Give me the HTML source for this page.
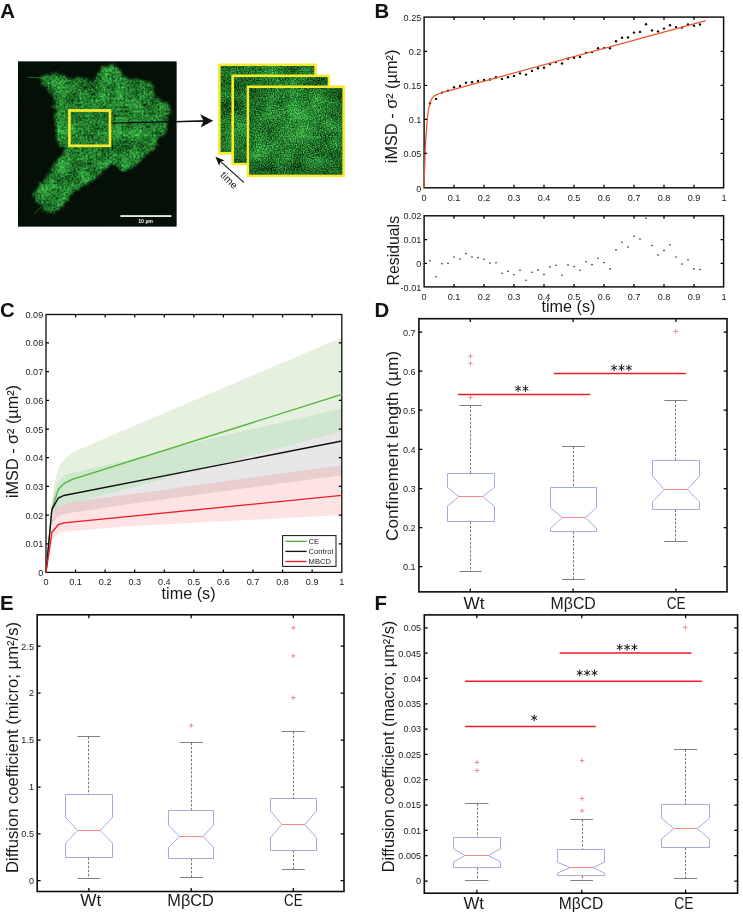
<!DOCTYPE html>
<html><head><meta charset="utf-8"><title>Figure</title>
<style>html,body{margin:0;padding:0;background:#fff;}svg{display:block;opacity:0.999;will-change:transform;}text{font-family:"Liberation Sans", sans-serif;}</style>
</head><body>
<svg width="743" height="913" viewBox="0 0 743 913" font-family='"Liberation Sans", sans-serif'>
<rect width="743" height="913" fill="#fff"/>
<defs>
<filter id="cellTex" x="-5%" y="-5%" width="110%" height="110%" color-interpolation-filters="sRGB">
  <feTurbulence type="fractalNoise" baseFrequency="0.33" numOctaves="2" seed="7" result="warp"/>
  <feDisplacementMap in="SourceGraphic" in2="warp" scale="5" xChannelSelector="R" yChannelSelector="G" result="shape"/>
  <feGaussianBlur in="shape" stdDeviation="1.0" result="shapeB"/>
  <feTurbulence type="fractalNoise" baseFrequency="0.07 0.065" numOctaves="3" seed="3" result="lo0"/>
  <feColorMatrix in="lo0" type="matrix" values="0 1 0 0 0  0 1 0 0 0  0 1 0 0 0  0 0 0 0 1" result="lo"/>
  <feTurbulence type="fractalNoise" baseFrequency="0.5 0.46" numOctaves="2" seed="11" result="hi0"/>
  <feColorMatrix in="hi0" type="matrix" values="0 1 0 0 0  0 1 0 0 0  0 1 0 0 0  0 0 0 0 1" result="hi1"/>
  <feGaussianBlur in="hi1" stdDeviation="0.6" result="hi"/>
  <feComposite in="lo" in2="hi" operator="arithmetic" k1="0" k2="0.55" k3="0.8" k4="-0.2" result="mix"/>
  <feColorMatrix in="mix" type="matrix" values="0 0.42 0 0 -0.06  0 1.0 0 0 0.02  0 0.42 0 0 -0.02  0 0 0 0 1" result="green"/>
  <feComposite in="green" in2="shapeB" operator="in"/>
</filter>
<filter id="bgTex" x="0" y="0" width="100%" height="100%" color-interpolation-filters="sRGB">
  <feTurbulence type="fractalNoise" baseFrequency="0.7" numOctaves="1" seed="2" result="g"/>
  <feColorMatrix in="g" type="matrix" values="0 0 0 0 0.02  0 0.12 0 0 0.0  0 0 0 0 0.025  0 0 0 0 1"/>
  <feComposite in2="SourceGraphic" operator="in"/>
</filter>
<filter id="roiTex" x="0" y="0" width="100%" height="100%" color-interpolation-filters="sRGB">
  <feTurbulence type="fractalNoise" baseFrequency="0.045 0.05" numOctaves="3" seed="9" result="lo0"/>
  <feColorMatrix in="lo0" type="matrix" values="0 1 0 0 0  0 1 0 0 0  0 1 0 0 0  0 0 0 0 1" result="lo"/>
  <feTurbulence type="fractalNoise" baseFrequency="0.83 0.77" numOctaves="2" seed="5" result="hi0"/>
  <feColorMatrix in="hi0" type="matrix" values="0 1 0 0 0  0 1 0 0 0  0 1 0 0 0  0 0 0 0 1" result="hi1"/>
  <feGaussianBlur in="hi1" stdDeviation="0.33" result="hi"/>
  <feComposite in="lo" in2="hi" operator="arithmetic" k1="0" k2="0.55" k3="1.15" k4="-0.36" result="mix"/>
  <feColorMatrix in="mix" type="matrix" values="0 0.42 0 0 -0.06  0 1.0 0 0 0.02  0 0.42 0 0 -0.02  0 0 0 0 1"/>
  <feComposite in2="SourceGraphic" operator="in"/>
</filter>
<radialGradient id="vig" cx="50%" cy="50%" r="72%">
  <stop offset="0" stop-color="#000" stop-opacity="0"/>
  <stop offset="0.6" stop-color="#000" stop-opacity="0.05"/>
  <stop offset="1" stop-color="#000" stop-opacity="0.32"/>
</radialGradient>
<radialGradient id="glow" cx="50%" cy="50%" r="50%">
  <stop offset="0" stop-color="#6fe06a" stop-opacity="0.12"/>
  <stop offset="1" stop-color="#6fe06a" stop-opacity="0"/>
</radialGradient>
</defs>
<text x="0.3" y="17.6" font-size="20.4" font-weight="bold" fill="#111">A</text>
<text x="374.4" y="17.6" font-size="20.4" font-weight="bold" fill="#111">B</text>
<text x="-0.1" y="317.3" font-size="20.4" font-weight="bold" fill="#111">C</text>
<text x="374.4" y="316.8" font-size="20.4" font-weight="bold" fill="#111">D</text>
<text x="-0.1" y="609.7" font-size="20.4" font-weight="bold" fill="#111">E</text>
<text x="374.4" y="609.7" font-size="20.4" font-weight="bold" fill="#111">F</text>
<rect x="18.0" y="61.6" width="158.4" height="164.8" fill="#050d07"/>
<rect x="18.0" y="61.6" width="158.4" height="164.8" fill="#000" filter="url(#bgTex)"/>
<clipPath id="imgClip"><rect x="18.0" y="61.6" width="158.4" height="164.8"/></clipPath>
<g clip-path="url(#imgClip)"><path d="M43.39 76.8L44.82 74.64L46.81 74.25L48.86 74.02L51.08 74.31L52.89 72.86L54.8 72.58L56.75 72.73L58.77 73.64L60.77 73.86L62.78 74.07L63.71 76.74L66.11 76.06L67.59 77.48L69.08 79.22L71.93 78.34L73.24 80.42L75.24 79.03L77.13 77.37L79.8 77.48L81.99 77.79L84.12 78.51L86.36 78.61L88.11 79.68L90.19 79.96L92.01 80.87L93.41 79.62L94.43 77.93L96.34 77.25L97.66 75.9L96.46 72.63L100.3 73.33L100.61 71.25L102.34 70.3L100.93 66.86L104.44 67.31L106.04 66L108.32 67.42L109.5 64.49L111.68 65.49L113.49 65.04L115.01 66.43L116.94 67.22L118.54 68.49L120.27 69.57L120.62 71.47L121.98 72.79L122.26 74.73L123.93 75.88L124.79 77.48L126.69 76.98L128.29 78.91L130.17 78.58L131.93 79.15L133.84 78.61L135.84 77.28L137.4 79.51L139.14 80.28L141.02 79.94L142.88 79.74L144.34 81.37L146.34 81.52L148.14 82.22L151.04 79.98L151.93 83.13L152.37 84.95L153.48 86.59L154.17 88.34L152.91 90.57L154.19 92.18L154.76 94.88L153.32 96.91L151.93 98.96L153.78 98.86L155.64 98.67L157.53 98.26L159.05 100.76L160.97 100.09L161.89 102.01L163.53 102.96L167.02 101.45L167.37 104.12L169.06 105.01L170.02 106.87L169.35 108.97L170 110.8L171.15 112.53L170.03 114.47L167.89 115.56L166.75 117.48L165.49 119.31L168.04 120.97L167.48 123.67L167.76 126.09L166.2 127.58L166.82 130.15L164.08 131.04L167.47 134.99L163.23 135.14L161.39 136.05L159.96 137.58L159.2 140.11L156.45 139.66L155.76 141.57L158.9 145.01L153.66 145.1L154.51 147.63L153.66 149.47L151.93 150.97L149.95 151.34L148.6 152.75L147.77 155.02L144.91 153.91L144.04 156.13L142.66 157.49L140.62 157.75L140.48 160.1L139.17 161.68L137.72 163.17L136.1 164.53L135.19 166.67L133.57 167.64L131.89 168.51L129.92 168.89L127.65 168.76L126.35 170.24L124.79 171.32L122.5 171.09L120.66 170.17L119.45 168.3L118.01 166.79L115.52 166.85L114.25 165.09L112.23 164.44L111.23 162.27L110.62 164.38L109.56 166.03L107.49 166.68L106.12 168.02L104.44 169.06L102.69 170.05L102.76 172.44L101.5 173.81L99.92 174.93L98.22 176.06L97.26 178.29L94.69 178.11L93.02 179.27L92.33 181.91L89.75 181.72L88.62 183.59L87.33 185.18L84.94 184.75L83.38 185.83L82.16 187.53L79.8 187.14L79.36 189.61L77.21 190.11L74.83 190.34L73.59 191.89L73.31 194.54L70.98 194.83L69.53 195.99L68.03 197.1L67.83 199.4L67.16 201.26L65.06 201.83L64.55 203.84L64.37 206.15L60.89 205.47L59.9 207.04L59.06 208.83L58.18 210.56L56.26 211.27L55.26 212.89L53.34 213.6L50.97 213.9L49.85 211.17L47.1 212.39L45.66 210.43L43.31 210.12L42.52 207.86L41.55 205.83L39.98 204.55L37.74 204.1L35.63 202.85L35.98 200.15L34.32 198.63L33.92 196.38L32.31 194.83L32.55 192.45L34.93 191.94L35.29 189.67L38.05 189.49L37.69 186.59L40 186.01L38.69 182.39L42.84 183.1L43.24 180.84L44.01 178.86L46.45 178.21L46.54 175.7L48.82 174.93L49.08 172.89L50.42 171.46L49.23 168.59L52.38 168.18L53.08 166.39L54.47 164.99L54.42 162.6L57.28 162.14L56.75 159.45L58.77 158.43L59.44 156.6L61.86 156.13L62.96 154.63L63.85 152.98L63.39 150.28L65.55 149.61L64 148.21L63.04 146.13L59.81 146.7L59.22 144.18L58 142.49L57.49 140.61L55.22 139.18L55.94 136.99L55.92 134.99L55.78 133.02L56.11 130.94L55.8 129.01L54.93 127.22L54.85 124.96L54.87 122.68L54.59 120.46L53.34 118.41L52.68 116.01L53.47 114.13L56.13 112.9L56.06 110.72L56.3 108.4L50.72 107.13L55.16 104.05L54.47 101.9L54.31 99.8L53.13 98.28L52.54 96.42L51.24 94.97L50.64 93.11L48.82 91.95L47.43 90.34L45.6 88.95L46.57 86.18L43.88 85.21L39.94 84.85L43.39 80.87L40.32 78.84Z" fill="#fff" filter="url(#cellTex)"/></g>
<path d="M28.6 77.4L44 77.8" stroke="#2f9a3f" stroke-opacity="0.55" stroke-width="1.3" stroke-linecap="round" fill="none"/>
<path d="M34.5 213.5L41 207" stroke="#2f9a3f" stroke-opacity="0.4" stroke-width="1.1" stroke-linecap="round" fill="none"/>
<rect x="69.4" y="110.5" width="40.5" height="35.3" fill="none" stroke="#f7ea2e" stroke-width="2.7"/>
<rect x="120.4" y="215.2" width="51" height="1.7" fill="#fff"/>
<text x="145.6" y="223.2" font-size="5.2" font-weight="bold" text-anchor="middle" fill="#f4f4f4">10 µm</text>
<path d="M111.4 123.2L204 121" stroke="#03101a" stroke-width="1.3" fill="none"/>
<path d="M176.4 121.7L204 121" stroke="#111" stroke-width="1" fill="none"/>
<path d="M213.2 120.8L200.2 114.2L203.6 120.9L200.6 127.6Z" fill="#111"/>
<rect x="218.1" y="63.5" width="98.7" height="91.1" fill="#f7ea2e"/>
<rect x="220.8" y="66.2" width="93.3" height="85.7" fill="#1f7a2a"/>
<rect x="220.8" y="66.2" width="93.3" height="85.7" fill="#000" filter="url(#roiTex)"/>
<rect x="220.8" y="66.2" width="93.3" height="85.7" fill="url(#glow)"/>
<rect x="220.8" y="66.2" width="93.3" height="85.7" fill="url(#vig)"/>
<rect x="231.4" y="74.5" width="98.7" height="90.8" fill="#f7ea2e"/>
<rect x="234.1" y="77.2" width="93.3" height="85.4" fill="#1f7a2a"/>
<rect x="234.1" y="77.2" width="93.3" height="85.4" fill="#000" filter="url(#roiTex)"/>
<rect x="234.1" y="77.2" width="93.3" height="85.4" fill="url(#glow)"/>
<rect x="234.1" y="77.2" width="93.3" height="85.4" fill="url(#vig)"/>
<rect x="246.7" y="85.5" width="98.2" height="91.6" fill="#f7ea2e"/>
<rect x="249.4" y="88.2" width="92.8" height="86.2" fill="#1f7a2a"/>
<rect x="249.4" y="88.2" width="92.8" height="86.2" fill="#000" filter="url(#roiTex)"/>
<rect x="249.4" y="88.2" width="92.8" height="86.2" fill="url(#glow)"/>
<rect x="249.4" y="88.2" width="92.8" height="86.2" fill="url(#vig)"/>
<path d="M243.8 182.4L219.6 160.6" stroke="#111" stroke-width="1.1" fill="none"/>
<path d="M215.4 156.8L224.8 160.4L220.4 161.4L219.2 165.8Z" fill="#111"/>
<text transform="translate(226.6,182.6) rotate(45)" font-size="10.2" text-anchor="middle" fill="#111">time</text>
<circle cx="430" cy="103.2" r="1.2" fill="#0a0a0a"/>
<circle cx="436" cy="98.9" r="1.2" fill="#0a0a0a"/>
<circle cx="442" cy="92.6" r="1.2" fill="#0a0a0a"/>
<circle cx="448" cy="90.6" r="1.2" fill="#0a0a0a"/>
<circle cx="454" cy="87.3" r="1.2" fill="#0a0a0a"/>
<circle cx="460" cy="86" r="1.2" fill="#0a0a0a"/>
<circle cx="466" cy="82.7" r="1.2" fill="#0a0a0a"/>
<circle cx="472" cy="82.2" r="1.2" fill="#0a0a0a"/>
<circle cx="478" cy="81" r="1.2" fill="#0a0a0a"/>
<circle cx="484" cy="80" r="1.2" fill="#0a0a0a"/>
<circle cx="490" cy="79.5" r="1.2" fill="#0a0a0a"/>
<circle cx="496" cy="77.2" r="1.2" fill="#0a0a0a"/>
<circle cx="502" cy="78.9" r="1.2" fill="#0a0a0a"/>
<circle cx="508" cy="77.2" r="1.2" fill="#0a0a0a"/>
<circle cx="514" cy="75.9" r="1.2" fill="#0a0a0a"/>
<circle cx="520" cy="73.4" r="1.2" fill="#0a0a0a"/>
<circle cx="526" cy="74.6" r="1.2" fill="#0a0a0a"/>
<circle cx="532" cy="70.9" r="1.2" fill="#0a0a0a"/>
<circle cx="538" cy="68.3" r="1.2" fill="#0a0a0a"/>
<circle cx="544" cy="67.8" r="1.2" fill="#0a0a0a"/>
<circle cx="550" cy="64" r="1.2" fill="#0a0a0a"/>
<circle cx="556" cy="62" r="1.2" fill="#0a0a0a"/>
<circle cx="562" cy="63.5" r="1.2" fill="#0a0a0a"/>
<circle cx="568" cy="58.7" r="1.2" fill="#0a0a0a"/>
<circle cx="574" cy="57.7" r="1.2" fill="#0a0a0a"/>
<circle cx="580" cy="56.9" r="1.2" fill="#0a0a0a"/>
<circle cx="586" cy="52.9" r="1.2" fill="#0a0a0a"/>
<circle cx="592" cy="52.1" r="1.2" fill="#0a0a0a"/>
<circle cx="598" cy="48.3" r="1.2" fill="#0a0a0a"/>
<circle cx="604" cy="48.1" r="1.2" fill="#0a0a0a"/>
<circle cx="610" cy="48.3" r="1.2" fill="#0a0a0a"/>
<circle cx="616" cy="41.2" r="1.2" fill="#0a0a0a"/>
<circle cx="622" cy="37.7" r="1.2" fill="#0a0a0a"/>
<circle cx="628" cy="37.4" r="1.2" fill="#0a0a0a"/>
<circle cx="634" cy="32.6" r="1.2" fill="#0a0a0a"/>
<circle cx="640" cy="31.9" r="1.2" fill="#0a0a0a"/>
<circle cx="646" cy="24.3" r="1.2" fill="#0a0a0a"/>
<circle cx="652" cy="30.4" r="1.2" fill="#0a0a0a"/>
<circle cx="658" cy="31.4" r="1.2" fill="#0a0a0a"/>
<circle cx="664" cy="28.6" r="1.2" fill="#0a0a0a"/>
<circle cx="670" cy="25.3" r="1.2" fill="#0a0a0a"/>
<circle cx="676" cy="27.1" r="1.2" fill="#0a0a0a"/>
<circle cx="682" cy="27.6" r="1.2" fill="#0a0a0a"/>
<circle cx="688" cy="24.5" r="1.2" fill="#0a0a0a"/>
<circle cx="694" cy="25.8" r="1.2" fill="#0a0a0a"/>
<circle cx="700" cy="24.5" r="1.2" fill="#0a0a0a"/>
<rect x="424.1" y="17.1" width="299.5" height="170.7" fill="none" stroke="#0b0c0c" stroke-width="1.45"/>
<path d="M424 188L424.6 168L425.1 151.8L425.7 140L426.4 131.6L427.2 120L428.2 111.3L429.2 106L430.2 102.5L431.4 99.6L432.7 97.4L434.4 95.9L436.3 94.9L439.5 93.5L442.9 92.4L705.8 20.7" stroke="#e8542a" stroke-width="1.25" fill="none" stroke-linejoin="round"/>
<path d="M454 187.8v-3M454 17.1v3M484 187.8v-3M484 17.1v3M514 187.8v-3M514 17.1v3M544 187.8v-3M544 17.1v3M574 187.8v-3M574 17.1v3M604 187.8v-3M604 17.1v3M634 187.8v-3M634 17.1v3M664 187.8v-3M664 17.1v3M694 187.8v-3M694 17.1v3" stroke="#000" stroke-width="1.25" fill="none"/>
<path d="M424.1 51.4h3M723.6 51.4h-3M424.1 85.4h3M723.6 85.4h-3M424.1 119.4h3M723.6 119.4h-3M424.1 153.4h3M723.6 153.4h-3" stroke="#000" stroke-width="1.25" fill="none"/>
<text x="421.3" y="20.5" font-size="9.1" text-anchor="end" font-weight="normal" fill="#1a1a1a" >0.25</text>
<text x="421.3" y="54.9" font-size="9.1" text-anchor="end" font-weight="normal" fill="#1a1a1a" >0.2</text>
<text x="421.3" y="88.9" font-size="9.1" text-anchor="end" font-weight="normal" fill="#1a1a1a" >0.15</text>
<text x="421.3" y="122.9" font-size="9.1" text-anchor="end" font-weight="normal" fill="#1a1a1a" >0.1</text>
<text x="421.3" y="156.9" font-size="9.1" text-anchor="end" font-weight="normal" fill="#1a1a1a" >0.05</text>
<text x="421.3" y="191.5" font-size="9.1" text-anchor="end" font-weight="normal" fill="#1a1a1a" >0</text>
<text x="424" y="201.2" font-size="9.1" text-anchor="middle" font-weight="normal" fill="#1a1a1a" >0</text>
<text x="454" y="201.2" font-size="9.1" text-anchor="middle" font-weight="normal" fill="#1a1a1a" >0.1</text>
<text x="484" y="201.2" font-size="9.1" text-anchor="middle" font-weight="normal" fill="#1a1a1a" >0.2</text>
<text x="514" y="201.2" font-size="9.1" text-anchor="middle" font-weight="normal" fill="#1a1a1a" >0.3</text>
<text x="544" y="201.2" font-size="9.1" text-anchor="middle" font-weight="normal" fill="#1a1a1a" >0.4</text>
<text x="574" y="201.2" font-size="9.1" text-anchor="middle" font-weight="normal" fill="#1a1a1a" >0.5</text>
<text x="604" y="201.2" font-size="9.1" text-anchor="middle" font-weight="normal" fill="#1a1a1a" >0.6</text>
<text x="634" y="201.2" font-size="9.1" text-anchor="middle" font-weight="normal" fill="#1a1a1a" >0.7</text>
<text x="664" y="201.2" font-size="9.1" text-anchor="middle" font-weight="normal" fill="#1a1a1a" >0.8</text>
<text x="694" y="201.2" font-size="9.1" text-anchor="middle" font-weight="normal" fill="#1a1a1a" >0.9</text>
<text x="724" y="201.2" font-size="9.1" text-anchor="middle" font-weight="normal" fill="#1a1a1a" >1</text>
<text transform="translate(396.6,106.4) rotate(-90)" font-size="16.6" text-anchor="middle" fill="#1a1a1a" textLength="113.5" lengthAdjust="spacingAndGlyphs">iMSD - σ² (µm²)</text>
<circle cx="430" cy="260.8" r="0.78" fill="#111"/>
<circle cx="436" cy="276.7" r="0.78" fill="#111"/>
<circle cx="442" cy="263.8" r="0.78" fill="#111"/>
<circle cx="448" cy="263.3" r="0.78" fill="#111"/>
<circle cx="454" cy="257" r="0.78" fill="#111"/>
<circle cx="460" cy="259" r="0.78" fill="#111"/>
<circle cx="466" cy="253.5" r="0.78" fill="#111"/>
<circle cx="472" cy="257" r="0.78" fill="#111"/>
<circle cx="478" cy="257.5" r="0.78" fill="#111"/>
<circle cx="484" cy="259.3" r="0.78" fill="#111"/>
<circle cx="490" cy="263.1" r="0.78" fill="#111"/>
<circle cx="496" cy="262.8" r="0.78" fill="#111"/>
<circle cx="502" cy="273.2" r="0.78" fill="#111"/>
<circle cx="508" cy="271.4" r="0.78" fill="#111"/>
<circle cx="514" cy="274.7" r="0.78" fill="#111"/>
<circle cx="520" cy="270.2" r="0.78" fill="#111"/>
<circle cx="526" cy="280.3" r="0.78" fill="#111"/>
<circle cx="532" cy="272.2" r="0.78" fill="#111"/>
<circle cx="538" cy="269.9" r="0.78" fill="#111"/>
<circle cx="544" cy="274.5" r="0.78" fill="#111"/>
<circle cx="550" cy="266.9" r="0.78" fill="#111"/>
<circle cx="556" cy="265.3" r="0.78" fill="#111"/>
<circle cx="562" cy="275.2" r="0.78" fill="#111"/>
<circle cx="568" cy="265.1" r="0.78" fill="#111"/>
<circle cx="574" cy="266.6" r="0.78" fill="#111"/>
<circle cx="580" cy="270.2" r="0.78" fill="#111"/>
<circle cx="586" cy="261.8" r="0.78" fill="#111"/>
<circle cx="592" cy="264.6" r="0.78" fill="#111"/>
<circle cx="598" cy="258.3" r="0.78" fill="#111"/>
<circle cx="604" cy="262.6" r="0.78" fill="#111"/>
<circle cx="610" cy="268.9" r="0.78" fill="#111"/>
<circle cx="616" cy="249.9" r="0.78" fill="#111"/>
<circle cx="622" cy="242.3" r="0.78" fill="#111"/>
<circle cx="628" cy="247.1" r="0.78" fill="#111"/>
<circle cx="634" cy="236.2" r="0.78" fill="#111"/>
<circle cx="640" cy="239" r="0.78" fill="#111"/>
<circle cx="646" cy="218.3" r="0.78" fill="#111"/>
<circle cx="652" cy="245.6" r="0.78" fill="#111"/>
<circle cx="658" cy="255" r="0.78" fill="#111"/>
<circle cx="664" cy="250.4" r="0.78" fill="#111"/>
<circle cx="670" cy="244.8" r="0.78" fill="#111"/>
<circle cx="676" cy="257" r="0.78" fill="#111"/>
<circle cx="682" cy="264.1" r="0.78" fill="#111"/>
<circle cx="688" cy="259.8" r="0.78" fill="#111"/>
<circle cx="694" cy="268.9" r="0.78" fill="#111"/>
<circle cx="700" cy="269.6" r="0.78" fill="#111"/>
<rect x="424.1" y="215.8" width="299.5" height="71.1" fill="none" stroke="#0b0c0c" stroke-width="1.45"/>
<path d="M454 286.9v-3M454 215.8v3M484 286.9v-3M484 215.8v3M514 286.9v-3M514 215.8v3M544 286.9v-3M544 215.8v3M574 286.9v-3M574 215.8v3M604 286.9v-3M604 215.8v3M634 286.9v-3M634 215.8v3M664 286.9v-3M664 215.8v3M694 286.9v-3M694 215.8v3" stroke="#000" stroke-width="1.25" fill="none"/>
<path d="M424.1 239.5h3M723.6 239.5h-3M424.1 263.3h3M723.6 263.3h-3" stroke="#000" stroke-width="1.25" fill="none"/>
<text x="421.3" y="219.2" font-size="9.1" text-anchor="end" font-weight="normal" fill="#1a1a1a" >0.02</text>
<text x="421.3" y="243" font-size="9.1" text-anchor="end" font-weight="normal" fill="#1a1a1a" >0.01</text>
<text x="421.3" y="266.8" font-size="9.1" text-anchor="end" font-weight="normal" fill="#1a1a1a" >0</text>
<text x="421.3" y="290.5" font-size="9.1" text-anchor="end" font-weight="normal" fill="#1a1a1a" >-0.01</text>
<text x="424" y="299.8" font-size="9.1" text-anchor="middle" font-weight="normal" fill="#1a1a1a" >0</text>
<text x="454" y="299.8" font-size="9.1" text-anchor="middle" font-weight="normal" fill="#1a1a1a" >0.1</text>
<text x="484" y="299.8" font-size="9.1" text-anchor="middle" font-weight="normal" fill="#1a1a1a" >0.2</text>
<text x="514" y="299.8" font-size="9.1" text-anchor="middle" font-weight="normal" fill="#1a1a1a" >0.3</text>
<text x="544" y="299.8" font-size="9.1" text-anchor="middle" font-weight="normal" fill="#1a1a1a" >0.4</text>
<text x="574" y="299.8" font-size="9.1" text-anchor="middle" font-weight="normal" fill="#1a1a1a" >0.5</text>
<text x="604" y="299.8" font-size="9.1" text-anchor="middle" font-weight="normal" fill="#1a1a1a" >0.6</text>
<text x="634" y="299.8" font-size="9.1" text-anchor="middle" font-weight="normal" fill="#1a1a1a" >0.7</text>
<text x="664" y="299.8" font-size="9.1" text-anchor="middle" font-weight="normal" fill="#1a1a1a" >0.8</text>
<text x="694" y="299.8" font-size="9.1" text-anchor="middle" font-weight="normal" fill="#1a1a1a" >0.9</text>
<text x="724" y="299.8" font-size="9.1" text-anchor="middle" font-weight="normal" fill="#1a1a1a" >1</text>
<text transform="translate(399,250.7) rotate(-90)" font-size="16.6" text-anchor="middle" fill="#1a1a1a" textLength="69.5" lengthAdjust="spacingAndGlyphs">Residuals</text>
<text x="568.4" y="312.3" font-size="16.6" text-anchor="middle" font-weight="normal" fill="#1a1a1a" textLength="54" lengthAdjust="spacingAndGlyphs">time (s)</text>
<path d="M46 572.5L51.9 502L54.8 482L58 469.8L61 463.8L64 460L70.1 454.1L82 448.3L118.3 432.4L341.6 337.7L341.6 431.1L126 489L70.1 502.9L64 504.5L58 507.1L51.9 514L46 572.5Z" fill="rgba(112,173,71,0.18)"/>
<path d="M46 572.5L51.9 505L54.8 490L58 483L61 478.6L64 476L70.1 473.4L126 460.7L200 441.5L341.6 408.9L341.6 475.2L126 504.5L70.1 513.1L64 514L58 516.1L51.9 524L46 572.5Z" fill="rgba(0,0,0,0.095)"/>
<path d="M46 572.5L51.9 522L54.8 511L58 507L64 504L70.1 502.3L126 495L341.6 465.3L341.6 515.1L126 526.4L70.1 531.2L64 532L58 533.6L51.9 540L46 572.5Z" fill="rgba(237,28,36,0.12)"/>
<path d="M54.8 490L58 483L61 478.6L64 476L70.1 473.4L126 460.7L200 441.5L341.6 408.9L341.6 431.1L126 489L70.1 502.9L64 504.5L58 507.1Z" fill="#cfe7cf"/>
<rect x="46" y="314.5" width="295.8" height="257.9" fill="none" stroke="#0b0c0c" stroke-width="1.3"/>
<path d="M46 572.5L51.9 509.3L58.3 489.6L63.9 483.6L71.6 479.6L341.8 394.4" stroke="#4fb53a" stroke-width="1.35" fill="none" stroke-linejoin="miter"/>
<path d="M46 572.5L51.9 509.3L58.3 498.1L63.9 495.5L341.8 441" stroke="#111" stroke-width="1.35" fill="none" stroke-linejoin="miter"/>
<path d="M46 572.5L51.9 532.3L58.3 524.7L63.9 522.9L341.8 495.4" stroke="#ee1c25" stroke-width="1.35" fill="none" stroke-linejoin="miter"/>
<path d="M75.57 572.4v-3M75.57 314.5v3M105.14 572.4v-3M105.14 314.5v3M134.71 572.4v-3M134.71 314.5v3M164.28 572.4v-3M164.28 314.5v3M193.85 572.4v-3M193.85 314.5v3M223.42 572.4v-3M223.42 314.5v3M252.99 572.4v-3M252.99 314.5v3M282.56 572.4v-3M282.56 314.5v3M312.13 572.4v-3M312.13 314.5v3" stroke="#000" stroke-width="1.25" fill="none"/>
<path d="M46 543.8h3M341.8 543.8h-3M46 515.1h3M341.8 515.1h-3M46 486.4h3M341.8 486.4h-3M46 457.7h3M341.8 457.7h-3M46 429h3M341.8 429h-3M46 400.3h3M341.8 400.3h-3M46 371.6h3M341.8 371.6h-3M46 342.9h3M341.8 342.9h-3" stroke="#000" stroke-width="1.25" fill="none"/>
<text x="43.2" y="576" font-size="9.1" text-anchor="end" font-weight="normal" fill="#1a1a1a" >0</text>
<text x="43.2" y="547.3" font-size="9.1" text-anchor="end" font-weight="normal" fill="#1a1a1a" >0.01</text>
<text x="43.2" y="518.6" font-size="9.1" text-anchor="end" font-weight="normal" fill="#1a1a1a" >0.02</text>
<text x="43.2" y="489.9" font-size="9.1" text-anchor="end" font-weight="normal" fill="#1a1a1a" >0.03</text>
<text x="43.2" y="461.2" font-size="9.1" text-anchor="end" font-weight="normal" fill="#1a1a1a" >0.04</text>
<text x="43.2" y="432.5" font-size="9.1" text-anchor="end" font-weight="normal" fill="#1a1a1a" >0.05</text>
<text x="43.2" y="403.8" font-size="9.1" text-anchor="end" font-weight="normal" fill="#1a1a1a" >0.06</text>
<text x="43.2" y="375.1" font-size="9.1" text-anchor="end" font-weight="normal" fill="#1a1a1a" >0.07</text>
<text x="43.2" y="346.4" font-size="9.1" text-anchor="end" font-weight="normal" fill="#1a1a1a" >0.08</text>
<text x="43.2" y="317.7" font-size="9.1" text-anchor="end" font-weight="normal" fill="#1a1a1a" >0.09</text>
<text x="46" y="584.8" font-size="9.1" text-anchor="middle" font-weight="normal" fill="#1a1a1a" >0</text>
<text x="75.57" y="584.8" font-size="9.1" text-anchor="middle" font-weight="normal" fill="#1a1a1a" >0.1</text>
<text x="105.14" y="584.8" font-size="9.1" text-anchor="middle" font-weight="normal" fill="#1a1a1a" >0.2</text>
<text x="134.71" y="584.8" font-size="9.1" text-anchor="middle" font-weight="normal" fill="#1a1a1a" >0.3</text>
<text x="164.28" y="584.8" font-size="9.1" text-anchor="middle" font-weight="normal" fill="#1a1a1a" >0.4</text>
<text x="193.85" y="584.8" font-size="9.1" text-anchor="middle" font-weight="normal" fill="#1a1a1a" >0.5</text>
<text x="223.42" y="584.8" font-size="9.1" text-anchor="middle" font-weight="normal" fill="#1a1a1a" >0.6</text>
<text x="252.99" y="584.8" font-size="9.1" text-anchor="middle" font-weight="normal" fill="#1a1a1a" >0.7</text>
<text x="282.56" y="584.8" font-size="9.1" text-anchor="middle" font-weight="normal" fill="#1a1a1a" >0.8</text>
<text x="312.13" y="584.8" font-size="9.1" text-anchor="middle" font-weight="normal" fill="#1a1a1a" >0.9</text>
<text x="341.7" y="584.8" font-size="9.1" text-anchor="middle" font-weight="normal" fill="#1a1a1a" >1</text>
<text transform="translate(17.6,441.5) rotate(-90)" font-size="16.6" text-anchor="middle" fill="#1a1a1a" textLength="113" lengthAdjust="spacingAndGlyphs">iMSD - σ² (µm²)</text>
<text x="188.6" y="599.2" font-size="16.6" text-anchor="middle" font-weight="normal" fill="#1a1a1a" textLength="54" lengthAdjust="spacingAndGlyphs">time (s)</text>
<rect x="282.6" y="535.6" width="53.4" height="30.8" fill="#fff" stroke="#111" stroke-width="1"/>
<path d="M285.4 541.3H306.6" stroke="#4fb53a" stroke-width="1.35"/>
<text x="308.6" y="544" font-size="7.6" text-anchor="start" font-weight="normal" fill="#1a1a1a" >CE</text>
<path d="M285.4 551.4H306.6" stroke="#111" stroke-width="1.35"/>
<text x="308.6" y="554.1" font-size="7.6" text-anchor="start" font-weight="normal" fill="#1a1a1a" >Control</text>
<path d="M285.4 561.5H306.6" stroke="#ee1c25" stroke-width="1.35"/>
<text x="308.6" y="564.2" font-size="7.6" text-anchor="start" font-weight="normal" fill="#1a1a1a" >MBCD</text>
<rect x="418.9" y="318.7" width="308.1" height="273.15" fill="none" stroke="#0b0c0c" stroke-width="1.6"/>
<path d="M470.3 591.85v-3.4M470.3 318.7v3.4M573.1 591.85v-3.4M573.1 318.7v3.4M675.9 591.85v-3.4M675.9 318.7v3.4" stroke="#000" stroke-width="1.25" fill="none"/>
<path d="M418.9 332.1h3.4M727 332.1h-3.4M418.9 371.1h3.4M727 371.1h-3.4M418.9 410.2h3.4M727 410.2h-3.4M418.9 449.3h3.4M727 449.3h-3.4M418.9 488.5h3.4M727 488.5h-3.4M418.9 527.6h3.4M727 527.6h-3.4M418.9 566.6h3.4M727 566.6h-3.4" stroke="#000" stroke-width="1.25" fill="none"/>
<text x="415.7" y="335.5" font-size="9.1" text-anchor="end" font-weight="normal" fill="#1a1a1a" >0.7</text>
<text x="415.7" y="374.5" font-size="9.1" text-anchor="end" font-weight="normal" fill="#1a1a1a" >0.6</text>
<text x="415.7" y="413.6" font-size="9.1" text-anchor="end" font-weight="normal" fill="#1a1a1a" >0.5</text>
<text x="415.7" y="452.7" font-size="9.1" text-anchor="end" font-weight="normal" fill="#1a1a1a" >0.4</text>
<text x="415.7" y="491.9" font-size="9.1" text-anchor="end" font-weight="normal" fill="#1a1a1a" >0.3</text>
<text x="415.7" y="531" font-size="9.1" text-anchor="end" font-weight="normal" fill="#1a1a1a" >0.2</text>
<text x="415.7" y="570" font-size="9.1" text-anchor="end" font-weight="normal" fill="#1a1a1a" >0.1</text>
<path d="M470.5 405.5V473.5M470.5 521.5V571.5" stroke="#222" stroke-width="0.6" stroke-dasharray="2.5 1.6" fill="none"/>
<path d="M459.3 405.5H481.8M459.3 571.5H481.8" stroke="#4a4a4a" stroke-width="0.7" fill="none"/>
<path d="M447.5 473.5H494.5V487.4L482.6 496.5L494.5 506.2V521.5H447.5V506.2L458.8 496.5L447.5 487.4Z" stroke="#7c86cf" stroke-width="0.7" fill="none" stroke-linejoin="miter"/>
<path d="M458.8 496.5H482.6" stroke="#f26a6a" stroke-width="0.8" fill="none"/>
<path d="M573.5 446.5V487.5M573.5 531.5V579.5" stroke="#222" stroke-width="0.6" stroke-dasharray="2.5 1.6" fill="none"/>
<path d="M562.1 446.5H584.9M562.1 579.5H584.9" stroke="#4a4a4a" stroke-width="0.7" fill="none"/>
<path d="M550.5 487.5H596.5V507.7L585.4 517.5L596.5 528.6V531.5H550.5V528.6L562.1 517.5L550.5 507.7Z" stroke="#7c86cf" stroke-width="0.7" fill="none" stroke-linejoin="miter"/>
<path d="M562.1 517.5H585.4" stroke="#f26a6a" stroke-width="0.8" fill="none"/>
<path d="M675.5 400.5V460.5M675.5 509.5V541.5" stroke="#222" stroke-width="0.6" stroke-dasharray="2.5 1.6" fill="none"/>
<path d="M664.3 400.5H687.3M664.3 541.5H687.3" stroke="#4a4a4a" stroke-width="0.7" fill="none"/>
<path d="M652.5 460.5H699.5V476.1L687.3 489.5L699.5 501.9V509.5H652.5V501.9L664.3 489.5L652.5 476.1Z" stroke="#7c86cf" stroke-width="0.7" fill="none" stroke-linejoin="miter"/>
<path d="M664.3 489.5H687.3" stroke="#f26a6a" stroke-width="0.8" fill="none"/>
<path d="M468.2 356.2h4.6M470.5 353.9v4.6" stroke="#f0484a" stroke-width="0.6" fill="none"/>
<path d="M468.2 363.3h4.6M470.5 361v4.6" stroke="#f0484a" stroke-width="0.6" fill="none"/>
<path d="M468.2 397.4h4.6M470.5 395.1v4.6" stroke="#f0484a" stroke-width="0.6" fill="none"/>
<path d="M673.4 331.4h4.6M675.7 329.1v4.6" stroke="#f0484a" stroke-width="0.6" fill="none"/>
<path d="M458 394.4H589.9" stroke="#ed1c24" stroke-width="1.5" fill="none"/>
<path d="M518.1 385.3L518.1 391.9M515.24 386.95L520.96 390.25M520.96 386.95L515.24 390.25M525.5 385.3L525.5 391.9M522.64 386.95L528.36 390.25M528.36 386.95L522.64 390.25" stroke="#1c1c1c" stroke-width="1.0" fill="none"/>
<path d="M553.7 373.6H685.8" stroke="#ed1c24" stroke-width="1.5" fill="none"/>
<path d="M614.1 364.5L614.1 371.1M611.24 366.15L616.96 369.45M616.96 366.15L611.24 369.45M621.5 364.5L621.5 371.1M618.64 366.15L624.36 369.45M624.36 366.15L618.64 369.45M628.9 364.5L628.9 371.1M626.04 366.15L631.76 369.45M631.76 366.15L626.04 369.45" stroke="#1c1c1c" stroke-width="1.0" fill="none"/>
<text x="474" y="609.3" font-size="16.6" text-anchor="middle" font-weight="normal" fill="#1a1a1a" textLength="21" lengthAdjust="spacingAndGlyphs">Wt</text>
<text x="573.2" y="609.3" font-size="16.6" text-anchor="middle" font-weight="normal" fill="#1a1a1a" textLength="45.2" lengthAdjust="spacingAndGlyphs">MβCD</text>
<text x="676.2" y="609.3" font-size="16.6" text-anchor="middle" font-weight="normal" fill="#1a1a1a" textLength="18.9" lengthAdjust="spacingAndGlyphs">CE</text>
<text transform="translate(397.6,446) rotate(-90)" font-size="16.6" text-anchor="middle" fill="#1a1a1a" textLength="190" lengthAdjust="spacingAndGlyphs">Confinement length (µm)</text>
<rect x="37.2" y="614.8" width="306.8" height="276.7" fill="none" stroke="#0b0c0c" stroke-width="1.6"/>
<path d="M88.9 891.5v-3.4M88.9 614.8v3.4M191.2 891.5v-3.4M191.2 614.8v3.4M293.3 891.5v-3.4M293.3 614.8v3.4" stroke="#000" stroke-width="1.25" fill="none"/>
<path d="M37.2 646.2h3.4M344 646.2h-3.4M37.2 693h3.4M344 693h-3.4M37.2 740h3.4M344 740h-3.4M37.2 787h3.4M344 787h-3.4M37.2 833.9h3.4M344 833.9h-3.4M37.2 880.7h3.4M344 880.7h-3.4" stroke="#000" stroke-width="1.25" fill="none"/>
<text x="34" y="649.6" font-size="9.1" text-anchor="end" font-weight="normal" fill="#1a1a1a" >2.5</text>
<text x="34" y="696.4" font-size="9.1" text-anchor="end" font-weight="normal" fill="#1a1a1a" >2</text>
<text x="34" y="743.4" font-size="9.1" text-anchor="end" font-weight="normal" fill="#1a1a1a" >1.5</text>
<text x="34" y="790.4" font-size="9.1" text-anchor="end" font-weight="normal" fill="#1a1a1a" >1</text>
<text x="34" y="837.3" font-size="9.1" text-anchor="end" font-weight="normal" fill="#1a1a1a" >0.5</text>
<text x="34" y="884.1" font-size="9.1" text-anchor="end" font-weight="normal" fill="#1a1a1a" >0</text>
<path d="M88.5 736.5V794.5M88.5 857.5V878.5" stroke="#222" stroke-width="0.6" stroke-dasharray="2.5 1.6" fill="none"/>
<path d="M77.5 736.5H100.2M77.5 878.5H100.2" stroke="#4a4a4a" stroke-width="0.7" fill="none"/>
<path d="M65.5 794.5H112.5V817.3L100.2 830.5L112.5 843.3V857.5H65.5V843.3L77.5 830.5L65.5 817.3Z" stroke="#7c86cf" stroke-width="0.7" fill="none" stroke-linejoin="miter"/>
<path d="M77.5 830.5H100.2" stroke="#f26a6a" stroke-width="0.8" fill="none"/>
<path d="M191.5 742.5V810.5M191.5 858.5V877.5" stroke="#222" stroke-width="0.6" stroke-dasharray="2.5 1.6" fill="none"/>
<path d="M179.8 742.5H203M179.8 877.5H203" stroke="#4a4a4a" stroke-width="0.7" fill="none"/>
<path d="M168.5 810.5H213.5V825.2L203 836.5L213.5 847.2V858.5H168.5V847.2L179.8 836.5L168.5 825.2Z" stroke="#7c86cf" stroke-width="0.7" fill="none" stroke-linejoin="miter"/>
<path d="M179.8 836.5H203" stroke="#f26a6a" stroke-width="0.8" fill="none"/>
<path d="M293.5 731.5V798.5M293.5 850.5V869.5" stroke="#222" stroke-width="0.6" stroke-dasharray="2.5 1.6" fill="none"/>
<path d="M281.8 731.5H304.8M281.8 869.5H304.8" stroke="#4a4a4a" stroke-width="0.7" fill="none"/>
<path d="M270.5 798.5H316.5V810.9L304.8 824.5L316.5 837.7V850.5H270.5V837.7L281.8 824.5L270.5 810.9Z" stroke="#7c86cf" stroke-width="0.7" fill="none" stroke-linejoin="miter"/>
<path d="M281.8 824.5H304.8" stroke="#f26a6a" stroke-width="0.8" fill="none"/>
<path d="M189 725.4h4.6M191.3 723.1v4.6" stroke="#f0484a" stroke-width="0.6" fill="none"/>
<path d="M291 627.7h4.6M293.3 625.4v4.6" stroke="#f0484a" stroke-width="0.6" fill="none"/>
<path d="M291 655.9h4.6M293.3 653.6v4.6" stroke="#f0484a" stroke-width="0.6" fill="none"/>
<path d="M291 697.6h4.6M293.3 695.3v4.6" stroke="#f0484a" stroke-width="0.6" fill="none"/>
<text x="90.8" y="906.4" font-size="16.6" text-anchor="middle" font-weight="normal" fill="#1a1a1a" textLength="21" lengthAdjust="spacingAndGlyphs">Wt</text>
<text x="190.6" y="906.4" font-size="16.6" text-anchor="middle" font-weight="normal" fill="#1a1a1a" textLength="46.5" lengthAdjust="spacingAndGlyphs">MβCD</text>
<text x="293.3" y="906.4" font-size="16.6" text-anchor="middle" font-weight="normal" fill="#1a1a1a" textLength="18.4" lengthAdjust="spacingAndGlyphs">CE</text>
<text transform="translate(18.3,747.5) rotate(-90)" font-size="16.6" text-anchor="middle" fill="#1a1a1a" textLength="251" lengthAdjust="spacingAndGlyphs">Diffusion coefficient (micro; µm²/s)</text>
<rect x="424.3" y="614.9" width="313.3" height="278.3" fill="none" stroke="#0b0c0c" stroke-width="1.6"/>
<path d="M476.9 893.2v-3.4M476.9 614.9v3.4M581.8 893.2v-3.4M581.8 614.9v3.4M685.6 893.2v-3.4M685.6 614.9v3.4" stroke="#000" stroke-width="1.25" fill="none"/>
<path d="M424.3 881h3.4M737.6 881h-3.4M424.3 855.68h3.4M737.6 855.68h-3.4M424.3 830.36h3.4M737.6 830.36h-3.4M424.3 805.04h3.4M737.6 805.04h-3.4M424.3 779.72h3.4M737.6 779.72h-3.4M424.3 754.4h3.4M737.6 754.4h-3.4M424.3 729.08h3.4M737.6 729.08h-3.4M424.3 703.76h3.4M737.6 703.76h-3.4M424.3 678.44h3.4M737.6 678.44h-3.4M424.3 653.12h3.4M737.6 653.12h-3.4M424.3 627.8h3.4M737.6 627.8h-3.4" stroke="#000" stroke-width="1.25" fill="none"/>
<text x="421.1" y="884.4" font-size="9.1" text-anchor="end" font-weight="normal" fill="#1a1a1a" >0</text>
<text x="421.1" y="859.08" font-size="9.1" text-anchor="end" font-weight="normal" fill="#1a1a1a" >0.005</text>
<text x="421.1" y="833.76" font-size="9.1" text-anchor="end" font-weight="normal" fill="#1a1a1a" >0.01</text>
<text x="421.1" y="808.44" font-size="9.1" text-anchor="end" font-weight="normal" fill="#1a1a1a" >0.015</text>
<text x="421.1" y="783.12" font-size="9.1" text-anchor="end" font-weight="normal" fill="#1a1a1a" >0.02</text>
<text x="421.1" y="757.8" font-size="9.1" text-anchor="end" font-weight="normal" fill="#1a1a1a" >0.025</text>
<text x="421.1" y="732.48" font-size="9.1" text-anchor="end" font-weight="normal" fill="#1a1a1a" >0.03</text>
<text x="421.1" y="707.16" font-size="9.1" text-anchor="end" font-weight="normal" fill="#1a1a1a" >0.035</text>
<text x="421.1" y="681.84" font-size="9.1" text-anchor="end" font-weight="normal" fill="#1a1a1a" >0.04</text>
<text x="421.1" y="656.52" font-size="9.1" text-anchor="end" font-weight="normal" fill="#1a1a1a" >0.045</text>
<text x="421.1" y="631.2" font-size="9.1" text-anchor="end" font-weight="normal" fill="#1a1a1a" >0.05</text>
<path d="M477.5 803.5V837.5M477.5 867.5V880.5" stroke="#222" stroke-width="0.6" stroke-dasharray="2.5 1.6" fill="none"/>
<path d="M465.1 803.5H488.4M465.1 880.5H488.4" stroke="#4a4a4a" stroke-width="0.7" fill="none"/>
<path d="M453.5 837.5H500.5V848.6L488.4 855.5L500.5 861.8V867.5H453.5V861.8L465.1 855.5L453.5 848.6Z" stroke="#7c86cf" stroke-width="0.7" fill="none" stroke-linejoin="miter"/>
<path d="M465.1 855.5H488.4" stroke="#f26a6a" stroke-width="0.8" fill="none"/>
<path d="M582.5 819.5V849.5M582.5 875.5V880.5" stroke="#222" stroke-width="0.6" stroke-dasharray="2.5 1.6" fill="none"/>
<path d="M570.2 819.5H593M570.2 880.5H593" stroke="#4a4a4a" stroke-width="0.7" fill="none"/>
<path d="M557.5 849.5H604.5V862.3L593 867.5L604.5 873.2V875.5H557.5V873.2L570.2 867.5L557.5 862.3Z" stroke="#7c86cf" stroke-width="0.7" fill="none" stroke-linejoin="miter"/>
<path d="M570.2 867.5H593" stroke="#f26a6a" stroke-width="0.8" fill="none"/>
<path d="M685.5 749.5V804.5M685.5 847.5V878.5" stroke="#222" stroke-width="0.6" stroke-dasharray="2.5 1.6" fill="none"/>
<path d="M673.9 749.5H697.2M673.9 878.5H697.2" stroke="#4a4a4a" stroke-width="0.7" fill="none"/>
<path d="M661.5 804.5H709.5V818.3L697.2 828.5L709.5 839V847.5H661.5V839L673.9 828.5L661.5 818.3Z" stroke="#7c86cf" stroke-width="0.7" fill="none" stroke-linejoin="miter"/>
<path d="M673.9 828.5H697.2" stroke="#f26a6a" stroke-width="0.8" fill="none"/>
<path d="M474.7 762.4h4.6M477 760.1v4.6" stroke="#f0484a" stroke-width="0.6" fill="none"/>
<path d="M474.7 770.5h4.6M477 768.2v4.6" stroke="#f0484a" stroke-width="0.6" fill="none"/>
<path d="M579.7 760.6h4.6M582 758.3v4.6" stroke="#f0484a" stroke-width="0.6" fill="none"/>
<path d="M579.7 798.5h4.6M582 796.2v4.6" stroke="#f0484a" stroke-width="0.6" fill="none"/>
<path d="M579.7 810.7h4.6M582 808.4v4.6" stroke="#f0484a" stroke-width="0.6" fill="none"/>
<path d="M683.1 627.3h4.6M685.4 625v4.6" stroke="#f0484a" stroke-width="0.6" fill="none"/>
<path d="M559.6 653.1H691.4" stroke="#ed1c24" stroke-width="1.5" fill="none"/>
<path d="M619.7 644L619.7 650.6M616.84 645.65L622.56 648.95M622.56 645.65L616.84 648.95M627.1 644L627.1 650.6M624.24 645.65L629.96 648.95M629.96 645.65L624.24 648.95M634.5 644L634.5 650.6M631.64 645.65L637.36 648.95M637.36 645.65L631.64 648.95" stroke="#1c1c1c" stroke-width="1.0" fill="none"/>
<path d="M465.1 681.2H702" stroke="#ed1c24" stroke-width="1.5" fill="none"/>
<path d="M579.7 669.6L579.7 676.2M576.84 671.25L582.56 674.55M582.56 671.25L576.84 674.55M587.1 669.6L587.1 676.2M584.24 671.25L589.96 674.55M589.96 671.25L584.24 674.55M594.5 669.6L594.5 676.2M591.64 671.25L597.36 674.55M597.36 671.25L591.64 674.55" stroke="#1c1c1c" stroke-width="1.0" fill="none"/>
<path d="M465.1 726.5H595.7" stroke="#ed1c24" stroke-width="1.5" fill="none"/>
<path d="M534.2 714.6L534.2 721.2M531.34 716.25L537.06 719.55M537.06 716.25L531.34 719.55" stroke="#1c1c1c" stroke-width="1.0" fill="none"/>
<text x="473.7" y="909" font-size="16.6" text-anchor="middle" font-weight="normal" fill="#1a1a1a" textLength="20.5" lengthAdjust="spacingAndGlyphs">Wt</text>
<text x="581" y="909" font-size="16.6" text-anchor="middle" font-weight="normal" fill="#1a1a1a" textLength="44.5" lengthAdjust="spacingAndGlyphs">MβCD</text>
<text x="684" y="909" font-size="16.6" text-anchor="middle" font-weight="normal" fill="#1a1a1a" textLength="19.3" lengthAdjust="spacingAndGlyphs">CE</text>
<text transform="translate(393.8,746.5) rotate(-90)" font-size="16.6" text-anchor="middle" fill="#1a1a1a" textLength="251.5" lengthAdjust="spacingAndGlyphs">Diffusion coefficient (macro; µm²/s)</text>
</svg></body></html>
